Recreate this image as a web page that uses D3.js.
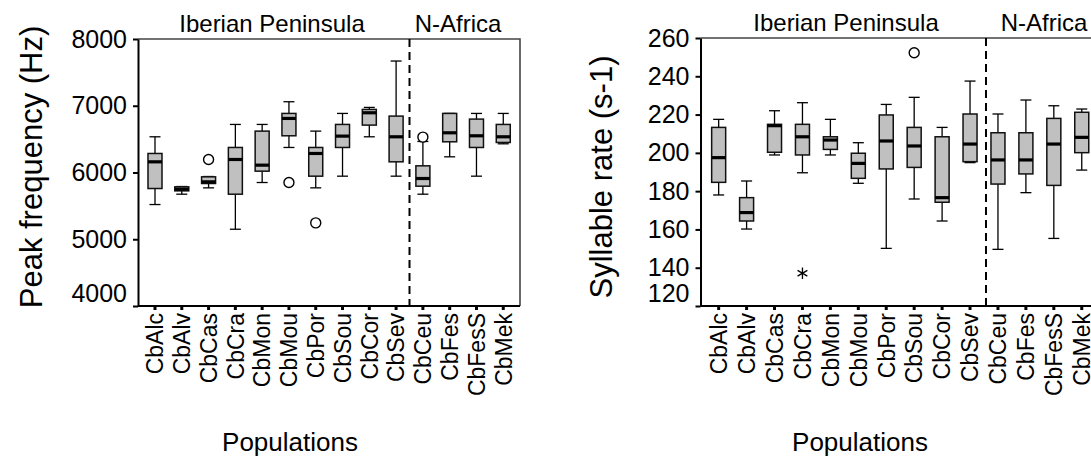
<!DOCTYPE html>
<html>
<head>
<meta charset="utf-8">
<script src="https://cdn.jsdelivr.net/npm/d3@7"></script>
<style>
  html, body { margin: 0; padding: 0; background: #fff; }
  svg { display: block; font-family: "Liberation Sans", Arial, sans-serif; }
</style>
</head>
<body>
<svg id="chart" width="1091" height="462"></svg>
<script>
// Populations (10 Iberian, 4 North-African)
const populations = ["CbAlc","CbAlv","CbCas","CbCra","CbMon","CbMou","CbPor","CbSou","CbCor","CbSev","CbCeu","CbFes","CbFesS","CbMek"];
const regionLabels = ["Iberian Peninsula", "N-Africa"];
const iberianCount = 10;

// Peak frequency (Hz): whisker low, lower quartile, median, upper quartile, whisker high
const pfLow    = [5520, 5675, 5770, 5150, 5850, 6375, 5770, 5945, 6535, 5945, 5675, 6235, 5945, 6430];
const pfQ1     = [5760, 5725, 5835, 5675, 6020, 6550, 5945, 6375, 6710, 6160, 5795, 6460, 6375, 6450];
const pfMedian = [6160, 5750, 5860, 6195, 6110, 6810, 6285, 6545, 6895, 6535, 5910, 6595, 6550, 6535];
const pfQ3     = [6285, 5785, 5935, 6375, 6620, 6885, 6375, 6720, 6945, 6845, 6100, 6885, 6800, 6720];
const pfHigh   = [6535, 5790, 5940, 6720, 6720, 7060, 6620, 6885, 6975, 7670, 6465, 6885, 6885, 6885];
const pfOutliers = [["CbCas", 6195], ["CbMou", 5850], ["CbPor", 5245], ["CbCeu", 6530]];
const pfTicks = [4000, 5000, 6000, 7000, 8000];

// Syllable rate (s-1)
const srLow    = [178.0, 160.2, 198.9, 189.6, 198.9, 184.1, 150.1, 175.9, 164.4, 194.9, 149.6, 179.2, 155.3, 191.0];
const srQ1     = [184.6, 164.4, 200.3, 198.9, 201.8, 186.7, 191.6, 192.4, 174.2, 195.4, 183.7, 189.0, 183.0, 200.1];
const srMedian = [197.5, 168.8, 214.2, 208.4, 206.7, 194.5, 206.2, 203.6, 176.6, 204.6, 196.3, 196.3, 204.6, 208.1];
const srQ3     = [213.3, 176.6, 214.9, 214.9, 208.4, 199.8, 219.8, 213.3, 208.4, 220.3, 210.5, 210.5, 218.0, 221.2];
const srHigh   = [217.5, 185.3, 222.0, 226.2, 217.5, 205.3, 225.3, 229.0, 213.3, 237.5, 220.3, 227.6, 224.6, 222.9];
const srOutliers = [["CbSou", 252.3]];
const srExtremes = [["CbCra", 137.1]];
const srTicks = [120, 140, 160, 180, 200, 220, 240, 260];

const svg = d3.select("#chart");

function drawPanel(cfg) {
  const g = svg.append("g");
  const x = d3.scaleBand().domain(populations).range([cfg.bandStart, cfg.bandStart + cfg.step * populations.length]);
  const y = d3.scaleLinear().domain(cfg.domain).range([cfg.bottom, cfg.top]);
  const cx = d => x(d) + x.bandwidth() / 2;

  // frame: top and right edges
  g.append("path")
    .attr("d", `M${cfg.axisX},${cfg.top}H${cfg.right}V${cfg.bottom}`)
    .attr("fill", "none").attr("stroke", "#444").attr("stroke-width", 1.6);

  // y axis
  const ya = g.append("g").attr("transform", `translate(${cfg.axisX},0)`)
    .call(d3.axisLeft(y).tickValues(cfg.ticks).tickFormat(d3.format("d"))
      .tickSize(5).tickSizeOuter(0).tickPadding(6));
  ya.select(".domain").attr("stroke", "#000").attr("stroke-width", 2);
  ya.selectAll(".tick line").attr("stroke", "#000").attr("stroke-width", 2);
  ya.selectAll(".tick text").attr("font-size", 25).attr("fill", "#000")
    .attr("font-family", "Liberation Sans, Arial, sans-serif")
    .attr("dy", d => d === cfg.domain[0] ? "-0.2em" : "0.32em");

  // x axis
  const xa = g.append("g").attr("transform", `translate(0,${cfg.bottom})`)
    .call(d3.axisBottom(x).tickSize(4).tickSizeOuter(0).tickPadding(4));
  xa.select(".domain").attr("d", `M${cfg.axisX},0H${cfg.right}`).attr("stroke", "#000").attr("stroke-width", 2);
  xa.selectAll(".tick line").attr("stroke", "#000").attr("stroke-width", 3);
  xa.selectAll(".tick text")
    .attr("font-size", 23).attr("fill", "#000")
    .attr("font-family", "Liberation Sans, Arial, sans-serif")
    .attr("text-anchor", "end")
    .attr("transform", "rotate(-90)")
    .attr("x", -7).attr("y", 0).attr("dy", "0.36em");

  // region separator
  const sepX = (cx(populations[iberianCount - 1]) + cx(populations[iberianCount])) / 2 + cfg.sepShift;
  g.append("line").attr("x1", sepX).attr("x2", sepX).attr("y1", cfg.top).attr("y2", cfg.bottom)
    .attr("stroke", "#000").attr("stroke-width", 2).attr("stroke-dasharray", "8,5");

  // region labels
  g.selectAll(".region").data(regionLabels).join("text")
    .attr("x", (d, i) => cfg.regionX[i]).attr("y", cfg.top - 7)
    .attr("text-anchor", "middle").attr("font-size", 24).attr("fill", "#000").text(d => d);

  // boxes
  const rows = populations.map((p, i) => ({ p, lo: cfg.low[i], q1: cfg.q1[i], med: cfg.med[i], q3: cfg.q3[i], hi: cfg.high[i] }));
  const bw = 14, capW = 11;
  const box = g.selectAll(".box").data(rows).join("g");
  box.append("line").attr("x1", d => cx(d.p)).attr("x2", d => cx(d.p))
    .attr("y1", d => y(d.hi)).attr("y2", d => y(d.lo)).attr("stroke", "#000").attr("stroke-width", 1.3);
  box.append("line").attr("x1", d => cx(d.p) - capW / 2).attr("x2", d => cx(d.p) + capW / 2)
    .attr("y1", d => y(d.hi)).attr("y2", d => y(d.hi)).attr("stroke", "#000").attr("stroke-width", 1.3);
  box.append("line").attr("x1", d => cx(d.p) - capW / 2).attr("x2", d => cx(d.p) + capW / 2)
    .attr("y1", d => y(d.lo)).attr("y2", d => y(d.lo)).attr("stroke", "#000").attr("stroke-width", 1.3);
  box.append("rect").attr("x", d => cx(d.p) - bw / 2).attr("width", bw)
    .attr("y", d => y(d.q3)).attr("height", d => Math.max(1, y(d.q1) - y(d.q3)))
    .attr("fill", "#c0c0c0").attr("stroke", "#111").attr("stroke-width", 1.5);
  box.append("line").attr("x1", d => cx(d.p) - bw / 2).attr("x2", d => cx(d.p) + bw / 2)
    .attr("y1", d => y(d.med)).attr("y2", d => y(d.med)).attr("stroke", "#000").attr("stroke-width", 3.2);

  // outliers
  g.selectAll(".outlier").data(cfg.outliers).join("circle")
    .attr("cx", d => cx(d[0])).attr("cy", d => y(d[1])).attr("r", 5)
    .attr("fill", "#fff").attr("stroke", "#000").attr("stroke-width", 1.4);
  g.selectAll(".extreme").data(cfg.extremes || []).join("path")
    .attr("transform", d => `translate(${cx(d[0])},${y(d[1])})`)
    .attr("d", d3.symbol(d3.symbolAsterisk, 90)).attr("fill", "none")
    .attr("stroke", "#000").attr("stroke-width", 1.3);

  // axis titles
  g.append("text").attr("transform", `translate(${cfg.yTitleX},${cfg.yTitleY}) rotate(-90)`)
    .attr("text-anchor", "middle").attr("font-size", 31).attr("fill", "#000").text(cfg.yTitle);
  g.append("text").attr("x", cfg.xTitleX).attr("y", 451)
    .attr("text-anchor", "middle").attr("font-size", 26).attr("fill", "#000").text("Populations");
}

drawPanel({
  domain: [4000, 8000], ticks: pfTicks, top: 39, bottom: 306, axisX: 138, right: 520,
  bandStart: 141.6, step: 26.79, sepShift: 0,
  regionX: [272, 458],
  low: pfLow, q1: pfQ1, med: pfMedian, q3: pfQ3, high: pfHigh, outliers: pfOutliers,
  yTitle: "Peak frequency (Hz)", yTitleX: 42, yTitleY: 167, xTitleX: 290
});

drawPanel({
  domain: [120, 260], ticks: srTicks, top: 38, bottom: 306, axisX: 700.5, right: 1100,
  bandStart: 704.7, step: 27.93, sepShift: 2,
  regionX: [846, 1044],
  low: srLow, q1: srQ1, med: srMedian, q3: srQ3, high: srHigh, outliers: srOutliers, extremes: srExtremes,
  yTitle: "Syllable rate (s-1)", yTitleX: 612, yTitleY: 177, xTitleX: 860
});
</script>
</body>
</html>
